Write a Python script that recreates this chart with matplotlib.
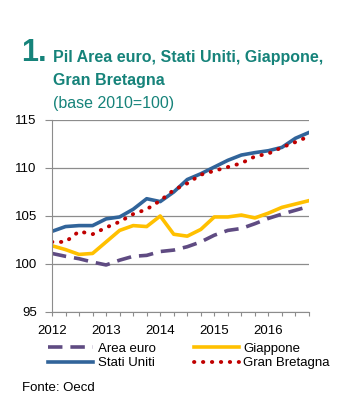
import matplotlib.pyplot as plt
import numpy as np

# ---------- Dati (base 2010=100, trimestrali 2012-2016) ----------
anni = ["2012", "2013", "2014", "2015", "2016"]
area_euro = [101.1, 100.8, 100.55, 100.2, 99.9, 100.4, 100.8, 100.9, 101.3, 101.45,
             101.8, 102.3, 103.0, 103.5, 103.7, 104.2, 104.75, 105.2, 105.6, 106.0]
stati_uniti = [103.4, 103.9, 104.0, 104.0, 104.7, 104.9, 105.7, 106.8, 106.5, 107.5,
               108.8, 109.4, 110.1, 110.8, 111.35, 111.6, 111.8, 112.15, 113.1, 113.7]
giappone = [101.9, 101.5, 101.0, 101.1, 102.3, 103.5, 104.0, 103.9, 105.0, 103.1,
            102.9, 103.6, 104.9, 104.9, 105.1, 104.8, 105.3, 105.9, 106.25, 106.6]
gran_bretagna = [102.3, 102.3, 103.4, 103.1, 103.8, 104.4, 105.2, 105.7, 106.6, 107.7,
                 108.4, 109.3, 109.7, 110.1, 110.5, 111.2, 111.5, 112.15, 112.7, 113.3]

TEAL = "#16837a"
NARROW = ['Liberation Sans Narrow', 'Liberation Sans', 'DejaVu Sans']
plt.rcParams['font.family'] = NARROW

fig = plt.figure(figsize=(3.52, 4.0), dpi=100)
ax = fig.add_axes([52 / 352, 1 - 312 / 400, 257 / 352, 192 / 400])

x = np.arange(len(area_euro))
l_ae, = ax.plot(x, area_euro, color="#5f4b82", lw=2.6, dashes=(4, 2.2), label="Area euro")
l_gi, = ax.plot(x, giappone, color="#ffc000", lw=2.6, label="Giappone")
l_us, = ax.plot(x, stati_uniti, color="#31649a", lw=2.6, label="Stati Uniti")
l_gb, = ax.plot(x, gran_bretagna, color="#c00000", lw=2.8, ls=(0, (0.1, 2.2)),
                dash_capstyle="round", label="Gran Bretagna")

ax.set_xlim(0, len(x) - 1)
ax.set_ylim(95, 115)
ax.set_yticks([95, 100, 105, 110, 115])
ax.set_xticks(x)
ax.set_xticklabels([anni[i // 4] if i % 4 == 0 else "" for i in x])
ax.grid(axis="y", color="#8c8c8c", lw=0.9)
ax.set_axisbelow(True)
for s in ["top", "right"]:
    ax.spines[s].set_visible(False)
for s in ["left", "bottom"]:
    ax.spines[s].set_color("#8c8c8c")
ax.tick_params(axis="x", direction="out", length=3, color="#8c8c8c", labelsize=9.5, pad=6)
ax.tick_params(axis="y", length=5, color="#8c8c8c", labelsize=9.5, pad=6)

# ---------- Titolo ----------
fig.text(21 / 352, 1 - 61 / 400, "1.", color=TEAL, fontsize=22, fontweight="bold",
         family=['Liberation Sans', 'DejaVu Sans'])
fig.text(53 / 352, 1 - 62 / 400, "Pil Area euro, Stati Uniti, Giappone,", color=TEAL,
         fontsize=11.5, fontweight="bold")
fig.text(53 / 352, 1 - 85 / 400, "Gran Bretagna", color=TEAL, fontsize=11.5, fontweight="bold")
fig.text(53 / 352, 1 - 108 / 400, "(base 2010=100)", color=TEAL, fontsize=11.5)

# ---------- Legenda ----------
fig.legend(handles=[l_ae, l_us, l_gi, l_gb], loc="upper left", ncol=2,
           bbox_to_anchor=(43 / 352, 1 - 337 / 400), frameon=False, fontsize=9.5,
           handlelength=3.4, handletextpad=0.35, columnspacing=2.9, labelspacing=0.2,
           borderaxespad=0)

fig.text(22 / 352, 1 - 391 / 400, "Fonte: Oecd", fontsize=9.5)

fig.savefig("out.png", dpi=100)
